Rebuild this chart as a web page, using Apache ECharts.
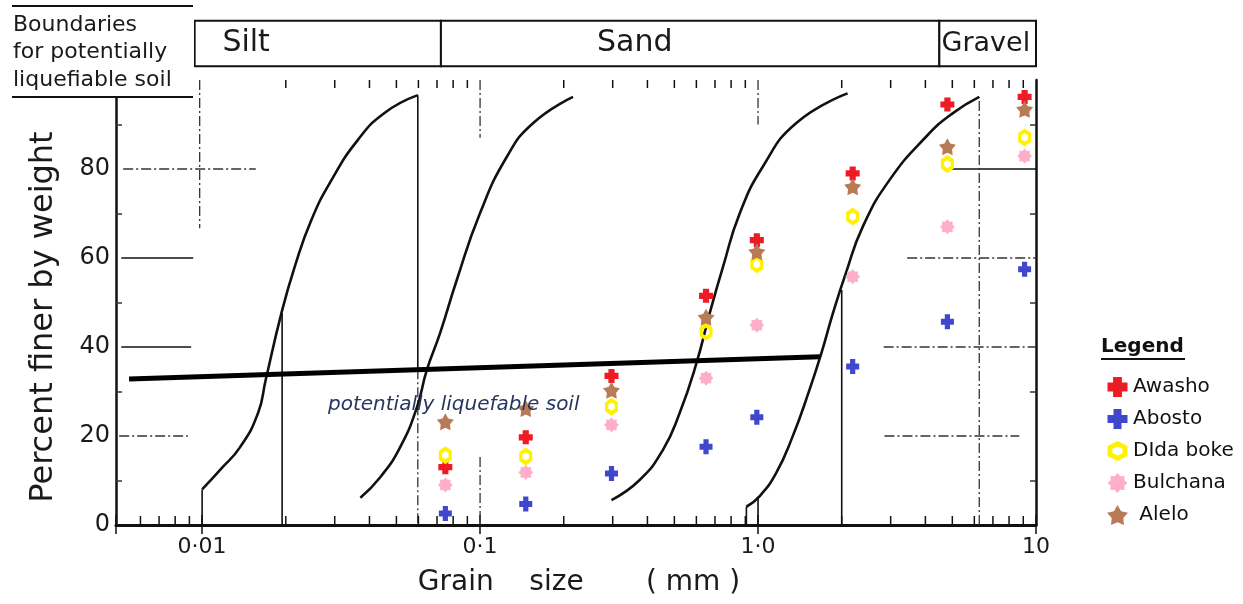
<!DOCTYPE html>
<html>
<head>
<meta charset="utf-8">
<script src="https://cdn.jsdelivr.net/npm/echarts@6/dist/echarts.min.js"></script>
<style>
  html, body { margin: 0; padding: 0; background: #fff; }
  #chart { width: 1243px; height: 604px; }
</style>
</head>
<body>
<div id="chart"></div>
<script>
// Sieve sizes (mm) of the grading tests
const grainSizes = [0.075, 0.146, 0.297, 0.65, 0.99, 2.19, 4.8, 9.1];

// Percent finer by weight for each sample
const awasho   = [13.0, 19.7, 33.5, 51.5, 64.0, 79.0, 94.5, 96.2];
const abosto   = [2.6, 4.7, 11.6, 17.6, 24.2, 35.6, 45.7, 57.5];
const didaBoke = [15.7, 15.4, 26.6, 43.4, 58.6, 69.3, 81.1, 87.1];
const bulchana = [9.0, 11.8, 22.5, 33.0, 44.9, 55.8, 67.0, 82.9];
const alelo    = [23.2, 26.2, 30.3, 46.7, 61.4, 76.0, 85.0, 93.4];

// Grading envelopes bounding the liquefiable range [size mm, % finer]
const boundaryA = [[0.01, 8], [0.01161, 12.4], [0.0137, 17.5], [0.0159, 25.2], [0.01693, 32.6], [0.01929, 47.6],
                   [0.02153, 58], [0.0247, 68.5], [0.0292, 77.5], [0.0363, 86.5], [0.0453, 92.6], [0.0597, 96.6]];
const boundaryB = [[0.0371, 6.1], [0.0438, 10.8], [0.0516, 17.5], [0.0593, 26.5], [0.0643, 34.8], [0.0718, 43.1],
                   [0.0824, 55], [0.1, 70.1], [0.1247, 82.7], [0.155, 90.3], [0.216, 96.2]];
const boundaryC = [[0.297, 5.6], [0.375, 10.1], [0.455, 16.9], [0.522, 25.1], [0.6, 36.3], [0.67, 47.6],
                   [0.748, 58], [0.859, 70], [1.04, 80.5], [1.37, 90.3], [2.1, 97]];
const boundaryD = [[0.908, 4.1], [1.01, 6.4], [1.16, 11.6], [1.33, 19.8], [1.53, 30.3], [1.69, 38.6], [1.86, 47.6],
                   [2.07, 56.6], [2.38, 67], [2.97, 77.5], [4.03, 87.3], [5.01, 92.5], [6.25, 96.2]];

// Limit line of potentially liquefiable soil
const liquefactionLimit = [[0.00546, 32.8], [1.67, 37.8]];

// Reference segments of the original chart: [x1, y1, x2, y2, dashed]
const guideSegments = [
  [0.0052, 80, 0.0156, 80, 1], [0.00512, 60, 0.00929, 60, 0], [0.00512, 40, 0.00913, 40, 0], [0.00503, 20, 0.0089, 20, 1],
  [4.92, 80, 10, 80, 0], [3.44, 60, 10, 60, 1], [2.83, 40, 10, 40, 1], [2.85, 20, 8.71, 20, 1],
  [0.0098, 100, 0.0098, 66.7, 1], [0.01, 0, 0.01, 8, 0], [0.0194, 0, 0.0194, 47.6, 0],
  [0.0597, 96.6, 0.0597, 35, 0], [0.0597, 35, 0.0597, 0, 1],
  [0.1, 100, 0.1, 87, 1], [0.1, 15.3, 0.1, 0, 1], [1.0, 100, 1.0, 90, 1],
  [0.908, 0, 0.908, 4.1, 0], [1.0, 0, 1.0, 6.4, 0], [2.0, 0, 2.0, 52.8, 0], [6.25, 0, 6.25, 96.2, 1]
];

// Soil class banner: edges (mm), names and label anchors (mm)
const bannerEdges = [0.0094, 0.0723, 4.49, 10];
const bannerNames = ['Silt', 'Sand', 'Gravel'];
const bannerLabelAt = [0.0144, 0.36, 6.6];

// Minor tick positions of the log grain-size axis
const minorTickValues = [0.006, 0.007, 0.008, 0.009, 0.02, 0.03, 0.04, 0.05, 0.06, 0.07, 0.08, 0.09,
                         0.2, 0.3, 0.4, 0.5, 0.6, 0.7, 0.8, 0.9, 2, 3, 4, 5, 6, 7, 8, 9];
const xTickLabels = { '0.01': '0·01', '0.1': '0·1', '1': '1·0', '10': '10' };

const FONT = 'DejaVu Sans';
const INK = '#111';

function starPath(points, inner) {
  let d = '';
  for (let i = 0; i < points * 2; i++) {
    const r = i % 2 ? inner : 1;
    const a = Math.PI * i / points - Math.PI / 2;
    d += (i ? 'L' : 'M') + (r * Math.cos(a)).toFixed(3) + ',' + (r * Math.sin(a)).toFixed(3);
  }
  return 'path://' + d + 'Z';
}
const plusThick = 'path://M0.28,0H0.72V0.28H1V0.72H0.72V1H0.28V0.72H0V0.28H0.28Z';
const plusMid = 'path://M0.3,0H0.7V0.3H1V0.7H0.7V1H0.3V0.7H0V0.3H0.3Z';
const hexRing = 'path://M0.5,0L1,0.25L1,0.75L0.5,1L0,0.75L0,0.25Z M0.5,0.27L0.25,0.39L0.25,0.61L0.5,0.73L0.75,0.61L0.75,0.39Z';

function pairs(values) { return grainSizes.map((g, i) => [g, values[i]]); }

const samples = [
  { name: 'Awasho', values: awasho, symbol: plusThick, size: 14, color: '#ed1c24' },
  { name: 'Abosto', values: abosto, symbol: plusMid, size: [13, 15], color: '#3f48cc' },
  { name: 'DIda boke', values: didaBoke, symbol: hexRing, size: [13, 18], color: '#fff200' },
  { name: 'Bulchana', values: bulchana, symbol: starPath(8, 0.74), size: 15, color: '#ffaec9' },
  { name: 'Alelo', values: alelo, symbol: starPath(5, 0.55), size: 17, color: '#b97a57' }
];

const chart = echarts.init(document.getElementById('chart'), null, { renderer: 'canvas' });

const series = [];

// banner of soil classes above the plot
series.push({
  type: 'custom', name: 'banner', clip: false, silent: true, z: 5,
  data: bannerNames.map((n, i) => [bannerEdges[i], bannerEdges[i + 1], bannerLabelAt[i]]),
  renderItem: function (params, api) {
    const p0 = api.coord([api.value(0), 113.3]);
    const p1 = api.coord([api.value(1), 103.1]);
    const pl = api.coord([api.value(2), 108.2]);
    const name = bannerNames[params.dataIndex];
    return {
      type: 'group',
      children: [
        { type: 'rect', shape: { x: p0[0], y: p0[1], width: p1[0] - p0[0], height: p1[1] - p0[1] },
          style: { fill: '#fff', stroke: INK, lineWidth: 2 } },
        { type: 'text', x: pl[0], y: pl[1],
          style: { text: name, fill: '#1a1a1a', fontFamily: FONT, fontSize: name === 'Gravel' ? 27 : 30,
                   align: 'center', verticalAlign: 'middle', textAlign: 'center', textVerticalAlign: 'middle' } }
      ]
    };
  }
});

// minor ticks along bottom and top edges
series.push({
  type: 'custom', name: 'minorTicks', silent: true, clip: false, z: 4,
  data: minorTickValues.map(v => [v]),
  renderItem: function (params, api) {
    const b = api.coord([api.value(0), 0]);
    const t = api.coord([api.value(0), 100]);
    return {
      type: 'group',
      children: [
        { type: 'line', shape: { x1: b[0], y1: b[1], x2: b[0], y2: b[1] - 9 }, style: { stroke: INK, lineWidth: 1.5 } },
        { type: 'line', shape: { x1: t[0], y1: t[1], x2: t[0], y2: t[1] + 8 }, style: { stroke: INK, lineWidth: 1.5 } }
      ]
    };
  }
});

// reference segments
series.push({
  type: 'custom', name: 'guides', silent: true, z: 3,
  data: guideSegments,
  renderItem: function (params, api) {
    const a = api.coord([api.value(0), api.value(1)]);
    const b = api.coord([api.value(2), api.value(3)]);
    const dashed = api.value(4) === 1;
    return {
      type: 'line',
      shape: { x1: a[0], y1: a[1], x2: b[0], y2: b[1] },
      style: { stroke: dashed ? '#333' : INK, lineWidth: dashed ? 1.3 : 1.6, lineDash: dashed ? [10, 3, 2, 3] : null }
    };
  }
});

[boundaryA, boundaryB, boundaryC, boundaryD].forEach((curve, i) => {
  series.push({
    type: 'line', name: 'boundary' + i, data: curve, smooth: 0.5, showSymbol: false, silent: true, z: 4,
    lineStyle: { color: INK, width: 2.6 }
  });
});

series.push({
  type: 'line', name: 'limit', data: liquefactionLimit, showSymbol: false, silent: true, z: 4,
  lineStyle: { color: '#000', width: 5 }
});

samples.forEach(s => {
  series.push({
    type: 'scatter', name: s.name, data: pairs(s.values), symbol: s.symbol, symbolSize: s.size, z: 10,
    itemStyle: { color: s.color, opacity: 1 }
  });
});

const option = {
  animation: false,
  backgroundColor: '#fff',
  grid: { left: 116, right: 207, top: 80, bottom: 79, containLabel: false, outerBoundsMode: 'none' },
  xAxis: [
    {
      type: 'log', logBase: 10, min: 0.0049, max: 10, position: 'bottom',
      axisLine: { show: true, lineStyle: { color: INK, width: 3 } },
      axisTick: { show: true, inside: true, length: 10, lineStyle: { color: INK, width: 1.5 } },
      axisLabel: {
        margin: 11, fontFamily: FONT, fontSize: 22, color: '#1a1a1a',
        formatter: function (v) {
          const k = String(+v.toPrecision(6));
          return xTickLabels[k] || '';
        }
      },
      splitLine: { show: false }
    },
    {
      type: 'log', logBase: 10, min: 0.0049, max: 10, position: 'top',
      axisLine: { show: true, lineStyle: { color: INK, width: 2.5 } },
      axisTick: { show: true, inside: true, length: 9, lineStyle: { color: INK, width: 1.5 } },
      axisLabel: { show: false },
      splitLine: { show: false }
    }
  ],
  yAxis: [
    {
      type: 'value', min: 0, max: 100, interval: 20, position: 'left',
      axisLine: { show: true, lineStyle: { color: INK, width: 2.5 } },
      axisTick: { show: false, inside: true },
      minorTick: { show: true, splitNumber: 2, length: 6, lineStyle: { color: '#333', width: 1.5 } },
      axisLabel: { margin: 6, fontFamily: FONT, fontSize: 24, color: '#1a1a1a',
                   formatter: v => (v === 100 ? '' : String(v)) },
      splitLine: { show: false }
    },
    {
      type: 'value', min: 0, max: 100, interval: 20, position: 'right',
      axisLine: { show: true, lineStyle: { color: INK, width: 2.5 } },
      axisTick: { show: false, inside: true },
      minorTick: { show: true, splitNumber: 2, length: 6, lineStyle: { color: '#333', width: 1.5 } },
      axisLabel: { show: false },
      splitLine: { show: false }
    }
  ],
  legend: {
    data: samples.map(s => s.name),
    orient: 'vertical', left: 1102, top: 372,
    itemWidth: 21, itemHeight: 20, itemGap: 12,
    selectedMode: false,
    formatter: n => (n === 'Alelo' ? ' ' + n : n),
    textStyle: { fontFamily: FONT, fontSize: 20, color: '#111' }
  },
  graphic: [
    { type: 'rect', z: 100, shape: { x: 11, y: 7, width: 183, height: 89 }, style: { fill: '#fff' } },
    { type: 'line', z: 101, shape: { x1: 12, y1: 6, x2: 193, y2: 6 }, style: { stroke: INK, lineWidth: 2 } },
    { type: 'line', z: 101, shape: { x1: 12, y1: 97, x2: 193, y2: 97 }, style: { stroke: INK, lineWidth: 2 } },
    { type: 'text', z: 101, x: 13, y: 25, style: { text: 'Boundaries', fontFamily: FONT, fontSize: 22, fill: '#1a1a1a', verticalAlign: 'middle', textVerticalAlign: 'middle' } },
    { type: 'text', z: 101, x: 13, y: 52, style: { text: 'for potentially', fontFamily: FONT, fontSize: 22, fill: '#1a1a1a', verticalAlign: 'middle', textVerticalAlign: 'middle' } },
    { type: 'text', z: 101, x: 13, y: 80, style: { text: 'liquefiable soil', fontFamily: FONT, fontSize: 22, fill: '#1a1a1a', verticalAlign: 'middle', textVerticalAlign: 'middle' } },
    { type: 'text', z: 101, x: 44, y: 317, rotation: Math.PI / 2,
      style: { text: 'Percent finer by weight', fontFamily: FONT, fontSize: 32, fill: '#1a1a1a',
               align: 'center', verticalAlign: 'middle', textAlign: 'center', textVerticalAlign: 'middle' } },
    { type: 'text', z: 101, x: 579, y: 583,
      style: { text: 'Grain    size       ( mm )', fontFamily: FONT, fontSize: 28, fill: '#1a1a1a',
               align: 'center', verticalAlign: 'middle', textAlign: 'center', textVerticalAlign: 'middle' } },
    { type: 'text', z: 101, x: 328, y: 405,
      style: { text: 'potentially liquefable soil', fontFamily: FONT, fontStyle: 'italic', fontSize: 20, fill: '#26365e',
               verticalAlign: 'middle', textVerticalAlign: 'middle' } },
    { type: 'text', z: 101, x: 1101, y: 347,
      style: { text: 'Legend', fontFamily: FONT, fontWeight: 'bold', fontSize: 20, fill: '#111',
               verticalAlign: 'middle', textVerticalAlign: 'middle' } },
    { type: 'line', z: 101, shape: { x1: 1101, y1: 359, x2: 1185, y2: 359 }, style: { stroke: '#111', lineWidth: 2 } }
  ],
  series: series
};

chart.setOption(option);
</script>
</body>
</html>
